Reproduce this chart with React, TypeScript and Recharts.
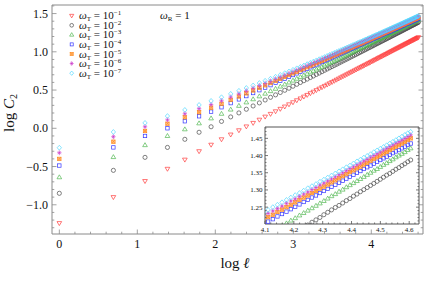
import React from 'react';
import { ScatterChart, Scatter, XAxis, YAxis } from 'recharts';

// system size l = 1..100, the x axis shows log l
const ells = [
  1, 2, 3, 4, 5, 6, 7, 8, 9, 10, 11, 12, 13, 14, 15, 16, 17, 18, 19, 20,
  21, 22, 23, 24, 25, 26, 27, 28, 29, 30, 31, 32, 33, 34, 35, 36, 37, 38, 39, 40,
  41, 42, 43, 44, 45, 46, 47, 48, 49, 50, 51, 52, 53, 54, 55, 56, 57, 58, 59, 60,
  61, 62, 63, 64, 65, 66, 67, 68, 69, 70, 71, 72, 73, 74, 75, 76, 77, 78, 79, 80,
  81, 82, 83, 84, 85, 86, 87, 88, 89, 90, 91, 92, 93, 94, 95, 96, 97, 98, 99, 100,
];

// log C2 for each omega_T
const wT1 = [
  -1.24, -0.9, -0.69, -0.53, -0.41, -0.3, -0.215, -0.144,
  -0.082, -0.026, 0.024, 0.07, 0.112, 0.152, 0.188, 0.222, 0.254, 0.284, 0.313, 0.34,
  0.366, 0.39, 0.414, 0.436, 0.458, 0.478, 0.498, 0.518, 0.536, 0.554,
  0.571, 0.588, 0.604, 0.62, 0.635, 0.65, 0.665, 0.679, 0.692, 0.706,
  0.719, 0.732, 0.744, 0.756, 0.768, 0.78, 0.791, 0.802, 0.813, 0.824,
  0.834, 0.844, 0.854, 0.864, 0.874, 0.883, 0.893, 0.902, 0.911, 0.92,
  0.929, 0.937, 0.946, 0.954, 0.962, 0.97, 0.978, 0.986, 0.994, 1.001,
  1.009, 1.016, 1.024, 1.031, 1.038, 1.045, 1.052, 1.058, 1.065, 1.072,
  1.078, 1.085, 1.091, 1.098, 1.104, 1.11, 1.116, 1.122, 1.128, 1.134,
  1.14, 1.146, 1.151, 1.157, 1.163, 1.168, 1.174, 1.179, 1.184, 1.19,
];
const wT2 = [
  -0.85, -0.55, -0.38, -0.25, -0.144, -0.052, 0.02, 0.09,
  0.149, 0.201, 0.249, 0.292, 0.332, 0.37, 0.405, 0.437, 0.468, 0.497, 0.524, 0.55,
  0.575, 0.599, 0.622, 0.643, 0.664, 0.684, 0.704, 0.722, 0.74, 0.758,
  0.775, 0.791, 0.807, 0.822, 0.837, 0.852, 0.866, 0.88, 0.893, 0.906,
  0.919, 0.932, 0.944, 0.956, 0.967, 0.979, 0.99, 1.001, 1.012, 1.022,
  1.032, 1.043, 1.053, 1.062, 1.072, 1.081, 1.091, 1.1, 1.109, 1.117,
  1.126, 1.135, 1.143, 1.151, 1.159, 1.167, 1.175, 1.183, 1.191, 1.198,
  1.206, 1.213, 1.22, 1.228, 1.235, 1.242, 1.249, 1.255, 1.262, 1.269,
  1.275, 1.282, 1.288, 1.295, 1.301, 1.307, 1.313, 1.319, 1.325, 1.331,
  1.337, 1.343, 1.348, 1.354, 1.36, 1.365, 1.371, 1.376, 1.382, 1.387,
];
const wT3 = [
  -0.64, -0.376, -0.22, -0.1, -0.013, 0.065, 0.13, 0.19,
  0.245, 0.294, 0.339, 0.38, 0.418, 0.453, 0.486, 0.517, 0.546, 0.573, 0.599, 0.624,
  0.648, 0.67, 0.692, 0.712, 0.732, 0.751, 0.769, 0.787, 0.804, 0.821,
  0.837, 0.852, 0.867, 0.882, 0.896, 0.91, 0.923, 0.937, 0.949, 0.962,
  0.974, 0.986, 0.998, 1.009, 1.02, 1.031, 1.041, 1.052, 1.062, 1.072,
  1.082, 1.092, 1.101, 1.11, 1.12, 1.129, 1.137, 1.146, 1.155, 1.163,
  1.171, 1.179, 1.187, 1.195, 1.203, 1.211, 1.218, 1.226, 1.233, 1.24,
  1.247, 1.254, 1.261, 1.268, 1.275, 1.282, 1.288, 1.295, 1.301, 1.308,
  1.314, 1.32, 1.326, 1.332, 1.338, 1.344, 1.35, 1.356, 1.361, 1.367,
  1.373, 1.378, 1.384, 1.389, 1.395, 1.4, 1.405, 1.41, 1.416, 1.421,
];
const wT4 = [
  -0.487, -0.25, -0.1, 0.0, 0.092, 0.157, 0.218, 0.275,
  0.329, 0.378, 0.421, 0.461, 0.498, 0.532, 0.564, 0.593, 0.621, 0.648, 0.672, 0.696,
  0.718, 0.74, 0.76, 0.78, 0.798, 0.816, 0.834, 0.85, 0.867, 0.882,
  0.897, 0.912, 0.926, 0.94, 0.953, 0.966, 0.978, 0.991, 1.003, 1.014,
  1.026, 1.037, 1.047, 1.058, 1.068, 1.078, 1.088, 1.098, 1.107, 1.117,
  1.126, 1.135, 1.143, 1.152, 1.16, 1.169, 1.177, 1.185, 1.193, 1.2,
  1.208, 1.215, 1.223, 1.23, 1.237, 1.244, 1.251, 1.258, 1.265, 1.271,
  1.278, 1.284, 1.291, 1.297, 1.303, 1.309, 1.315, 1.321, 1.327, 1.333,
  1.338, 1.344, 1.35, 1.355, 1.361, 1.366, 1.371, 1.376, 1.382, 1.387,
  1.392, 1.397, 1.402, 1.407, 1.412, 1.416, 1.421, 1.426, 1.431, 1.435,
];
const wT5 = [
  -0.4, -0.175, -0.035, 0.06, 0.144, 0.21, 0.27, 0.32,
  0.371, 0.416, 0.457, 0.495, 0.53, 0.562, 0.592, 0.62, 0.647, 0.672, 0.696, 0.719,
  0.74, 0.761, 0.781, 0.799, 0.818, 0.835, 0.852, 0.868, 0.884, 0.899,
  0.914, 0.928, 0.942, 0.955, 0.968, 0.981, 0.993, 1.005, 1.017, 1.029,
  1.04, 1.051, 1.061, 1.072, 1.082, 1.092, 1.102, 1.111, 1.121, 1.13,
  1.139, 1.148, 1.157, 1.165, 1.173, 1.182, 1.19, 1.198, 1.206, 1.213,
  1.221, 1.228, 1.236, 1.243, 1.25, 1.257, 1.264, 1.271, 1.278, 1.284,
  1.291, 1.297, 1.304, 1.31, 1.316, 1.322, 1.328, 1.334, 1.34, 1.346,
  1.352, 1.357, 1.363, 1.368, 1.374, 1.379, 1.385, 1.39, 1.395, 1.4,
  1.406, 1.411, 1.416, 1.421, 1.426, 1.43, 1.435, 1.44, 1.445, 1.45,
];
const wT6 = [
  -0.32, -0.11, 0.02, 0.11, 0.19, 0.257, 0.31, 0.36,
  0.408, 0.451, 0.49, 0.526, 0.559, 0.59, 0.618, 0.646, 0.671, 0.695, 0.718, 0.74,
  0.761, 0.781, 0.8, 0.818, 0.836, 0.853, 0.869, 0.885, 0.9, 0.915,
  0.929, 0.943, 0.957, 0.97, 0.983, 0.995, 1.007, 1.019, 1.031, 1.042,
  1.053, 1.063, 1.074, 1.084, 1.094, 1.104, 1.114, 1.123, 1.132, 1.142,
  1.15, 1.159, 1.168, 1.176, 1.185, 1.193, 1.201, 1.209, 1.216, 1.224,
  1.232, 1.239, 1.246, 1.253, 1.261, 1.268, 1.274, 1.281, 1.288, 1.294,
  1.301, 1.307, 1.314, 1.32, 1.326, 1.332, 1.338, 1.344, 1.35, 1.356,
  1.362, 1.367, 1.373, 1.378, 1.384, 1.389, 1.395, 1.4, 1.405, 1.41,
  1.416, 1.421, 1.426, 1.431, 1.436, 1.44, 1.445, 1.45, 1.455, 1.46,
];
const wT7 = [
  -0.254, -0.048, 0.07, 0.16, 0.24, 0.305, 0.358, 0.406,
  0.45, 0.49, 0.527, 0.56, 0.592, 0.621, 0.648, 0.674, 0.698, 0.721, 0.743, 0.764,
  0.784, 0.803, 0.821, 0.839, 0.856, 0.872, 0.888, 0.903, 0.918, 0.932,
  0.946, 0.96, 0.973, 0.986, 0.998, 1.01, 1.022, 1.033, 1.045, 1.056,
  1.066, 1.077, 1.087, 1.097, 1.107, 1.117, 1.126, 1.135, 1.144, 1.153,
  1.162, 1.171, 1.179, 1.188, 1.196, 1.204, 1.212, 1.22, 1.227, 1.235,
  1.242, 1.25, 1.257, 1.264, 1.271, 1.278, 1.285, 1.291, 1.298, 1.305,
  1.311, 1.317, 1.324, 1.33, 1.336, 1.342, 1.348, 1.354, 1.36, 1.366,
  1.371, 1.377, 1.383, 1.388, 1.394, 1.399, 1.404, 1.41, 1.415, 1.42,
  1.425, 1.43, 1.435, 1.44, 1.445, 1.45, 1.455, 1.46, 1.465, 1.469,
];

const exponents = ['−1', '−2', '−3', '−4', '−5', '−6', '−7'];

// tick labels
const mainXMajor = [0, 1, 2, 3, 4];
const mainYMajor = [-1, -0.5, 0, 0.5, 1, 1.5];
const insetXMajor = [4.1, 4.2, 4.3, 4.4, 4.5, 4.6];
const insetYMajor = [1.25, 1.3, 1.35, 1.4, 1.45];

const FONT = '"Liberation Serif", "DejaVu Serif", serif';
const FRAME = '#8a8a8a';
const INSET_FRAME = '#555';

const MAIN_LOGX: [number, number] = [-0.094, 4.663];
const MAIN_Y: [number, number] = [-1.382, 1.612];
const INSET_LOGX: [number, number] = [4.1, 4.634];
const INSET_Y: [number, number] = [1.201, 1.483];

const steps = (a: number, b: number, d: number) => {
  const out: number[] = [];
  const n = Math.round((b - a) / d);
  for (let i = 0; i <= n; i++) out.push(+(a + i * d).toFixed(4));
  return out;
};
const near = (v: number, list: number[]) => list.some((m) => Math.abs(m - v) < 1e-6);
const minus = (s: string) => s.replace('-', '−');

type Kind = 'down' | 'circle' | 'up' | 'square' | 'boxx' | 'star' | 'diamond';

const seriesDefs: { kind: Kind; color: string; values: number[] }[] = [
  { kind: 'down', color: '#ff3b3b', values: wT1 },
  { kind: 'circle', color: '#4a4a4a', values: wT2 },
  { kind: 'up', color: '#52b852', values: wT3 },
  { kind: 'square', color: '#3535ff', values: wT4 },
  { kind: 'boxx', color: '#ff8a1c', values: wT5 },
  { kind: 'star', color: '#cc3fcc', values: wT6 },
  { kind: 'diamond', color: '#52d8ff', values: wT7 },
];

const Marker = ({ kind, color, cx, cy, s = 0.9 }: { kind: Kind; color: string; cx: number; cy: number; s?: number }) => {
  const sw = 0.7;
  const a = 2.6 * s, b = 1.7 * s, c = 2.7 * s, h = 1.9 * s;
  switch (kind) {
    case 'down':
      return <polygon points={`${cx - a},${cy - b} ${cx + a},${cy - b} ${cx},${cy + c}`} fill="none" stroke={color} strokeWidth={sw} />;
    case 'up':
      return <polygon points={`${cx - a},${cy + b} ${cx + a},${cy + b} ${cx},${cy - c}`} fill="none" stroke={color} strokeWidth={sw} />;
    case 'circle':
      return <circle cx={cx} cy={cy} r={2.3 * s} fill="none" stroke={color} strokeWidth={sw} />;
    case 'square':
      return <rect x={cx - h} y={cy - h} width={2 * h} height={2 * h} fill="none" stroke={color} strokeWidth={sw} />;
    case 'boxx':
      return (
        <g stroke={color} strokeWidth={sw}>
          <rect x={cx - h} y={cy - h} width={2 * h} height={2 * h} fill={color} fillOpacity={0.45} />
          <line x1={cx - h} y1={cy - h} x2={cx + h} y2={cy + h} />
          <line x1={cx - h} y1={cy + h} x2={cx + h} y2={cy - h} />
        </g>
      );
    case 'star':
      return (
        <g stroke={color} strokeWidth={sw}>
          <line x1={cx} y1={cy - c} x2={cx} y2={cy + c} />
          <line x1={cx - 2.4 * s} y1={cy} x2={cx + 2.4 * s} y2={cy} />
          <line x1={cx - 1.6 * s} y1={cy - 1.6 * s} x2={cx + 1.6 * s} y2={cy + 1.6 * s} />
          <line x1={cx - 1.6 * s} y1={cy + 1.6 * s} x2={cx + 1.6 * s} y2={cy - 1.6 * s} />
        </g>
      );
    default:
      return <polygon points={`${cx},${cy - c} ${cx + 2.4 * s},${cy} ${cx},${cy + c} ${cx - 2.4 * s},${cy}`} fill="none" stroke={color} strokeWidth={sw} />;
  }
};

const shapeFor = (kind: Kind, color: string) => (p: any) => <Marker kind={kind} color={color} cx={p.cx} cy={p.cy} />;

// ticks point into the frame, labels only on majors
const xTick = (side: 'bottom' | 'top', majors: number[], big: number, small: number, color: string, label?: (k: number) => string, fontSize = 12, gap = 14) =>
  (props: any) => {
    const { x, y, payload } = props;
    const k = Math.log(payload.value);
    const isMaj = near(+k.toFixed(4), majors);
    const len = isMaj ? big : small;
    const dir = side === 'bottom' ? -1 : 1;
    return (
      <g>
        <line x1={x} x2={x} y1={y} y2={y + dir * len} stroke={color} strokeWidth={0.8} />
        {label && isMaj && (
          <text x={x} y={y + gap} textAnchor="middle" fontSize={fontSize} fontFamily={FONT} fill="#111">
            {label(k)}
          </text>
        )}
      </g>
    );
  };

const yTick = (side: 'left' | 'right', majors: number[], big: number, small: number, color: string, label?: (v: number) => string, fontSize = 12, gap = 4) =>
  (props: any) => {
    const { x, y, payload } = props;
    const v = payload.value;
    const isMaj = near(v, majors);
    const len = isMaj ? big : small;
    const dir = side === 'left' ? 1 : -1;
    return (
      <g>
        <line x1={x} x2={x + dir * len} y1={y} y2={y} stroke={color} strokeWidth={0.8} />
        {label && isMaj && (
          <text x={x - gap} y={y + fontSize * 0.35} textAnchor="end" fontSize={fontSize} fontFamily={FONT} fill="#111">
            {label(v)}
          </text>
        )}
      </g>
    );
  };

const mainXTicks = steps(0, 4.6, 0.2).map((k) => Math.exp(k));
const mainYTicks = steps(-1.3, 1.6, 0.1);
const insetXTicks = steps(4.1, 4.62, 0.02).map((k) => Math.exp(k));
const insetYTicks = steps(1.21, 1.48, 0.01);

const seriesData = seriesDefs.map((s) => ells.map((l, i) => ({ l, y: s.values[i] })));

const legendRows = [15.7, 25.3, 34.8, 44.4, 54, 63.5, 73.2];

const axisCommon = { tickSize: 0, tickMargin: 0, interval: 0 as const, allowDataOverflow: true };

export default function App() {
  const abs: React.CSSProperties = { position: 'absolute', left: 0, top: 0 };
  return (
    <div style={{ position: 'absolute', left: 0, top: 0, width: 425, height: 287, background: '#fff' }}>
      <div style={abs}>
        <ScatterChart width={425} height={287} margin={{ top: 4, right: 1, bottom: 52, left: 51 }}>
          <XAxis dataKey="l" type="number" scale="log" domain={MAIN_LOGX.map(Math.exp)} {...axisCommon}
            ticks={mainXTicks} height={1} stroke={FRAME}
            tick={xTick('bottom', mainXMajor, 4.5, 2.3, FRAME, (k) => String(Math.round(k)), 12, 14)} />
          <XAxis xAxisId="top" orientation="top" type="number" scale="log" domain={MAIN_LOGX.map(Math.exp)} {...axisCommon}
            ticks={mainXTicks} height={1} stroke={FRAME}
            tick={xTick('top', mainXMajor, 4.5, 2.3, FRAME)} />
          <YAxis dataKey="y" type="number" domain={MAIN_Y} {...axisCommon} ticks={mainYTicks}
            width={1} stroke={FRAME}
            tick={yTick('left', mainYMajor, 4.5, 2.3, FRAME, (v) => minus(v.toFixed(1)), 12, 4)} />
          <YAxis yAxisId="right" orientation="right" type="number" domain={MAIN_Y} {...axisCommon} ticks={mainYTicks}
            width={1} stroke={FRAME} tick={yTick('right', mainYMajor, 4.5, 2.3, FRAME)} />
          {seriesDefs.map((s, i) => (
            <Scatter key={i} data={seriesData[i]} shape={shapeFor(s.kind, s.color)} isAnimationActive={false} />
          ))}
        </ScatterChart>
      </div>
      <div style={{ position: 'absolute', left: 265, top: 127, width: 154, height: 97, background: '#fff' }} />
      <div style={abs}>
        <ScatterChart width={425} height={287} margin={{ top: 126, right: 5, bottom: 62, left: 264 }}>
          <XAxis dataKey="l" type="number" scale="log" domain={INSET_LOGX.map(Math.exp)} {...axisCommon}
            ticks={insetXTicks} height={1} stroke={INSET_FRAME}
            tick={xTick('bottom', insetXMajor, 3, 1.5, INSET_FRAME, (k) => k.toFixed(1), 7, 7.5)} />
          <XAxis xAxisId="top" orientation="top" type="number" scale="log" domain={INSET_LOGX.map(Math.exp)} {...axisCommon}
            ticks={insetXTicks} height={1} stroke={INSET_FRAME}
            tick={xTick('top', insetXMajor, 3, 1.5, INSET_FRAME)} />
          <YAxis dataKey="y" type="number" domain={INSET_Y} {...axisCommon} ticks={insetYTicks}
            width={1} stroke={INSET_FRAME}
            tick={yTick('left', insetYMajor, 3, 1.5, INSET_FRAME, (v) => v.toFixed(2), 7, 2.5)} />
          <YAxis yAxisId="right" orientation="right" type="number" domain={INSET_Y} {...axisCommon} ticks={insetYTicks}
            width={1} stroke={INSET_FRAME} tick={yTick('right', insetYMajor, 3, 1.5, INSET_FRAME)} />
          {seriesDefs.map((s, i) => (
            <Scatter key={i} data={seriesData[i].filter((d) => d.l >= 55)} shape={shapeFor(s.kind, s.color)} isAnimationActive={false} />
          ))}
        </ScatterChart>
      </div>
      <svg width={425} height={287} style={{ ...abs, pointerEvents: 'none' }} fontFamily={FONT}>
        <text transform="translate(14,113) rotate(-90)" textAnchor="middle" fontSize={15} fill="#111">
          log <tspan fontStyle="italic">C</tspan>
          <tspan fontSize={10} dy={3}>2</tspan>
        </text>
        <text x={235} y={268} textAnchor="middle" fontSize={15} fill="#111">
          log <tspan fontStyle="italic">ℓ</tspan>
        </text>
        {seriesDefs.map((s, i) => (
          <g key={i}>
            <Marker kind={s.kind} color={s.color} cx={71.7} cy={legendRows[i]} s={0.8} />
            <text x={79} y={legendRows[i] + 3.5} fontSize={11} fill="#111">
              <tspan fontStyle="italic">ω</tspan>
              <tspan fontSize={7} dy={2}>T</tspan>
              <tspan dy={-2}> = 10</tspan>
              <tspan fontSize={7} dy={-4}>{exponents[i]}</tspan>
            </text>
          </g>
        ))}
        <text x={160} y={19} fontSize={11} fill="#111">
          <tspan fontStyle="italic">ω</tspan>
          <tspan fontSize={7} dy={2}>R</tspan>
          <tspan dy={-2}> = 1</tspan>
        </text>
      </svg>
    </div>
  );
}
